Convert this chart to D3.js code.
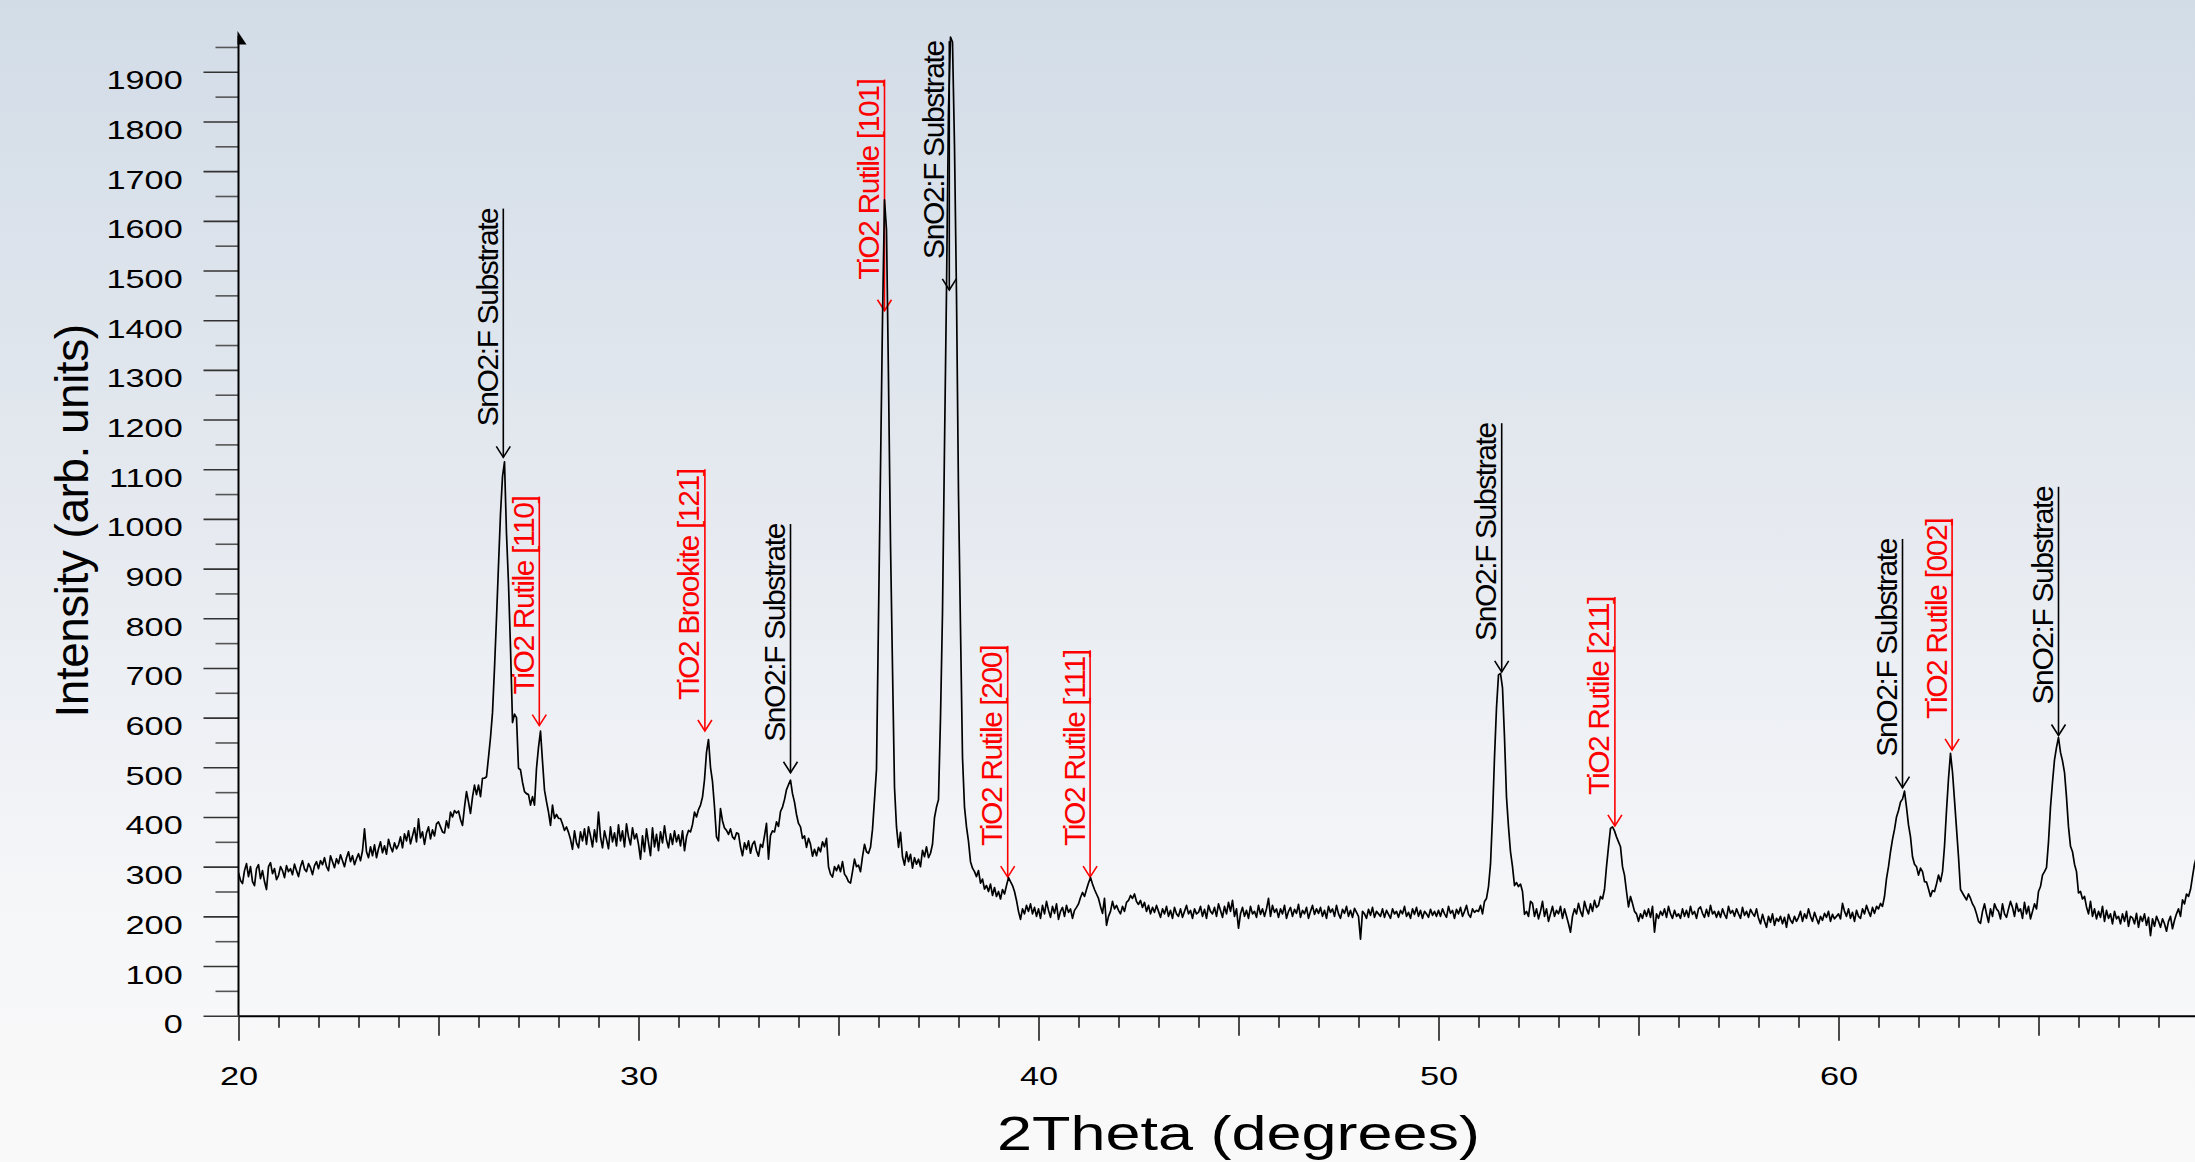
<!DOCTYPE html>
<html><head><meta charset="utf-8">
<script src="https://cdn.jsdelivr.net/npm/d3@7"></script>
<style>
html,body{margin:0;padding:0;overflow:hidden;background:#fff;}
svg{display:block;}
text{font-family:"Liberation Sans",Arial,Helvetica,sans-serif;}
</style></head><body>
<svg id="chart" width="2195" height="1162"></svg>
<script>
// ---------------- DATA ----------------
// XRD intensity, one row per degree of 2Theta (row k starts at firstRowTheta + k),
// samples evenly spaced inside each row (0.05 deg).
const firstRowTheta = 20;
const intensityRows = [
/*20*/[288,272,266,292,306,280,300,270,262,296,304,276,292,270,254,300,308,286,296,274],
/*21*/[282,300,292,278,302,290,296,284,305,292,280,300,312,295,290,306,298,284,302,310],
/*22*/[296,312,304,318,300,292,322,310,298,316,306,324,312,300,318,330,310,322,304,316],
/*23*/[326,312,332,376,330,318,340,322,344,318,336,350,328,342,325,355,340,330,348,336],
/*24*/[344,360,338,366,352,372,346,362,378,350,396,358,370,345,368,380,356,374,362,386],
/*25*/[390,380,370,368,392,378,410,400,413,408,412,395,383,420,451,430,407,440,464,445],
/*26*/[464,441,478,478,481,520,560,610,700,800,907,1010,1085,1115,970,870,740,590,607,600],
/*27*/[498,495,470,451,447,445,424,441,424,498,540,573,512,454,431,410,383,424,397,405],
/*28*/[397,397,386,373,380,369,355,335,372,348,338,370,352,376,345,380,362,340,374,350],
/*29*/[410,360,338,372,355,336,380,350,368,342,384,352,372,340,386,360,344,378,356,366],
/*30*/[345,315,362,330,376,348,322,378,340,365,332,370,348,382,354,338,366,345,372,350],
/*31*/[364,342,372,332,360,373,370,385,410,400,415,424,440,475,530,556,500,471,420,360],
/*32*/[352,417,392,378,373,365,376,360,355,368,366,340,322,348,335,352,327,345,351,332],
/*33*/[321,345,339,362,387,315,363,372,370,390,381,411,420,435,455,465,474,447,430,405],
/*34*/[387,380,357,362,339,357,345,321,335,322,339,330,350,340,357,300,285,279,300,292],
/*35*/[303,290,310,285,279,270,267,290,315,300,303,290,320,345,330,327,339,375,435,496],
/*36*/[800,1100,1401,1642,1582,1280,950,700,460,380,339,369,320,303,330,310,325,297,318,305],
/*37*/[315,300,333,320,340,318,327,345,399,420,435,600,811,1146,1460,1823,1970,1960,1750,1450],
/*38*/[1050,780,520,420,380,351,310,297,290,280,292,267,275,255,262,250,265,242,258,240],
/*39*/[250,235,254,245,262,278,270,262,250,232,210,194,215,205,222,210,225,205,218,200],
/*40*/[215,196,222,205,230,212,198,220,206,225,194,210,218,200,222,208,215,196,212,218],
/*41*/[225,238,248,240,254,267,278,265,254,245,236,220,206,236,182,200,210,230,215,222],
/*42*/[212,205,220,210,228,232,242,236,245,230,224,232,218,228,210,222,205,218,208,222],
/*43*/[210,198,215,205,220,200,212,196,218,205,200,215,198,210,222,205,212,196,215,205],
/*44*/[208,220,200,214,196,222,210,205,218,200,225,212,198,220,205,228,210,232,200,215],
/*45*/[176,205,218,200,212,196,220,205,210,198,222,204,215,200,215,236,200,222,208,215],
/*46*/[198,215,205,222,196,210,218,200,214,206,224,198,212,205,218,196,210,222,204,215],
/*47*/[206,218,200,212,196,220,208,215,200,222,205,196,214,206,220,200,212,198,216,208],
/*48*/[200,154,210,205,196,214,202,218,198,210,205,200,215,198,212,204,196,215,205,210],
/*49*/[198,212,205,220,200,208,196,215,204,218,200,212,196,210,205,198,214,202,210,200],
/*50*/[212,200,215,205,198,220,206,212,196,214,205,218,200,210,222,204,198,215,208,212],
/*51*/[210,222,205,230,236,260,305,400,520,620,686,689,660,560,440,380,330,300,262,268],
/*52*/[260,265,250,204,210,200,230,226,200,215,195,210,230,200,215,190,205,220,200,212],
/*53*/[205,220,196,215,200,185,168,200,215,205,226,210,200,230,215,205,225,210,232,218],
/*54*/[222,240,235,254,300,340,377,380,372,360,350,340,300,283,250,219,240,226,210,205],
/*55*/[190,205,196,212,200,215,198,220,168,205,196,210,202,215,198,220,205,196,212,200],
/*56*/[205,196,215,200,212,198,220,204,210,196,215,219,206,198,214,200,222,205,210,198],
/*57*/[210,198,215,204,196,220,206,212,200,215,205,196,218,202,210,198,214,206,200,215],
/*58*/[196,185,204,190,178,200,188,205,182,196,190,200,185,198,178,204,192,186,200,190],
/*59*/[198,210,190,205,196,215,200,190,208,196,185,200,192,206,198,210,190,204,195,200],
/*60*/[205,195,226,210,200,215,196,208,190,212,200,196,215,205,222,210,200,218,206,220],
/*61*/[215,226,220,240,276,300,330,355,375,400,413,430,436,452,420,384,360,320,305,300],
/*62*/[283,297,290,270,269,255,240,252,250,265,283,270,290,341,413,477,528,490,434,377],
/*63*/[320,254,247,240,233,245,236,225,218,205,190,186,210,225,205,188,215,200,225,215],
/*64*/[210,195,225,205,198,215,230,218,200,226,210,215,196,228,205,220,195,210,225,215],
/*65*/[250,260,283,290,298,350,420,470,515,540,560,530,513,490,440,380,341,330,305,290],
/*66*/[247,250,235,240,219,205,230,200,215,195,210,198,220,190,212,196,205,185,210,195],
/*67*/[200,185,205,190,210,180,200,197,185,206,178,200,190,205,182,198,161,195,180,200],
/*68*/[190,178,195,185,170,190,200,175,192,205,215,200,233,225,245,240,254,280,305,320]
];

const yTickValues = [0,100,200,300,400,500,600,700,800,900,1000,1100,1200,1300,1400,1500,1600,1700,1800,1900];
const yMinorTickValues = [50,150,250,350,450,550,650,750,850,950,1050,1150,1250,1350,1450,1550,1650,1750,1850,1950];
const xTickLabels = [20,30,40,50,60];
const xMidTicks = [25,35,45,55,65];
const xMinorTicks = [21,22,23,24,26,27,28,29,31,32,33,34,36,37,38,39,41,42,43,44,46,47,48,49,51,52,53,54,56,57,58,59,61,62,63,64,66,67,68];

const peakLabels = ["SnO2:F Substrate","TiO2 Rutile [110]","TiO2 Brookite [121]","SnO2:F Substrate",
  "TiO2 Rutile [101]","SnO2:F Substrate","TiO2 Rutile [200]","TiO2 Rutile [111]",
  "SnO2:F Substrate","TiO2 Rutile [211]","SnO2:F Substrate","TiO2 Rutile [002]","SnO2:F Substrate"];
const peakTheta = [26.62,27.52,31.66,33.8,36.15,37.77,39.23,41.29,51.58,54.41,61.6,62.84,65.5];
const peakArrowIntensity = [1124,584,573,489,1419,1461,279,279,692,382,459,535,564];
const peakPhase = ["SnO2","TiO2","TiO2","SnO2","TiO2","SnO2","TiO2","TiO2","SnO2","TiO2","SnO2","TiO2","SnO2"];

const xAxisTitle = "2Theta (degrees)";
const yAxisTitle = "Intensity (arb. units)";

// ---------------- CHART ----------------
const W = 2195, H = 1162;
const svg = d3.select("#chart");
const defs = svg.append("defs");
const grad = defs.append("linearGradient").attr("id","bg").attr("x1",0).attr("y1",0).attr("x2",0).attr("y2",1);
[["0%","#d2dce7"],["45%","#e6eaf0"],["80%","#f6f7f9"],["100%","#faf9f9"]].forEach(s=>
  grad.append("stop").attr("offset",s[0]).attr("stop-color",s[1]));
svg.append("rect").attr("width",W).attr("height",H).attr("fill","url(#bg)");

const x = d3.scaleLinear().domain([20, 68.9]).range([238.5, 2194.5]);
const y = d3.scaleLinear().domain([0, 1900]).range([1015.7, 71.8]);

defs.append("clipPath").attr("id","plotclip").append("rect")
  .attr("x", x(20)).attr("y", 0).attr("width", W - x(20)).attr("height", y(0) + 1);

// Y axis (minor then major ticks)
const gyMinor = svg.append("g").attr("transform",`translate(${x(20)},0)`)
  .call(d3.axisLeft(y).tickValues(yMinorTickValues).tickSize(23).tickSizeOuter(0).tickFormat(""));
gyMinor.select(".domain").remove();
gyMinor.selectAll(".tick line").attr("stroke","#555").attr("stroke-width",1.6);

const gy = svg.append("g").attr("transform",`translate(${x(20)},0)`)
  .call(d3.axisLeft(y).tickValues(yTickValues).tickSize(35).tickSizeOuter(0).tickFormat(d3.format("d")));
gy.select(".domain").remove();
gy.selectAll(".tick line").attr("stroke","#333").attr("stroke-width",1.6);
gy.selectAll(".tick text")
  .attr("x",null).attr("dy",null).attr("text-anchor","end")
  .attr("font-size",25).attr("fill","#000")
  .attr("transform","translate(-55.8,17) scale(1.37,1)");

// Y axis line with arrow
svg.append("line").attr("x1",x(20)).attr("x2",x(20)).attr("y1",y(0)).attr("y2",y(1972))
  .attr("stroke","#000").attr("stroke-width",2);
svg.append("path")
  .attr("d",`M${x(20)-1},${y(1982)} L${x(20)+8},${y(1955)} L${x(20)-1},${y(1955)} Z`)
  .attr("fill","#000");

// X axis
const gxMinor = svg.append("g").attr("transform",`translate(0,${y(0)})`)
  .call(d3.axisBottom(x).tickValues(xMinorTicks).tickSize(12).tickSizeOuter(0).tickFormat(""));
gxMinor.select(".domain").remove();
const gxMid = svg.append("g").attr("transform",`translate(0,${y(0)})`)
  .call(d3.axisBottom(x).tickValues(xMidTicks).tickSize(20).tickSizeOuter(0).tickFormat(""));
gxMid.select(".domain").remove();
const gx = svg.append("g").attr("transform",`translate(0,${y(0)})`)
  .call(d3.axisBottom(x).tickValues(xTickLabels).tickSize(25).tickSizeOuter(0).tickFormat(d3.format("d")));
gx.select(".domain").attr("stroke","#000").attr("stroke-width",2);
[gxMinor, gxMid, gx].forEach(g=>g.selectAll(".tick line").attr("stroke","#111").attr("stroke-width",1.5));
gx.selectAll(".tick text")
  .attr("y",null).attr("dy",null).attr("text-anchor","middle")
  .attr("font-size",25).attr("fill","#000")
  .attr("transform","translate(0,69.3) scale(1.375,1)");

// Peak annotations (drawn beneath the trace)
const gAnn = svg.append("g");
peakLabels.forEach((lab,i)=>{
  const col = peakPhase[i]==="TiO2" ? "#ff0000" : "#000000";
  const lx = x(peakTheta[i]), ty = y(peakArrowIntensity[i]);
  const t = gAnn.append("text")
    .attr("transform",`translate(${lx-5.5},${ty-31}) rotate(-90)`)
    .attr("text-anchor","start").attr("font-size",30)
    .attr("letter-spacing","-1.4px").attr("fill",col).text(lab);
  const L = t.node().getComputedTextLength();
  gAnn.append("line").attr("x1",lx).attr("x2",lx).attr("y1",ty).attr("y2",ty-31-L)
    .attr("stroke",col).attr("stroke-width",1.6);
  gAnn.append("path").attr("d",`M${lx-7},${ty-11} L${lx},${ty} L${lx+7},${ty-11}`)
    .attr("fill","none").attr("stroke",col).attr("stroke-width",1.6);
});

// XRD trace
const pts = [];
intensityRows.forEach((row,k)=>{
  row.forEach((v,j)=>pts.push([firstRowTheta + k + j/row.length, v]));
});
svg.append("path").datum(pts)
  .attr("clip-path","url(#plotclip)")
  .attr("d", d3.line().x(d=>x(d[0])).y(d=>y(d[1])))
  .attr("fill","none").attr("stroke","#000").attr("stroke-width",1.7)
  .attr("stroke-linejoin","round");

// Axis titles
svg.append("text").attr("x",997).attr("y",1150)
  .attr("font-size",49).attr("textLength",483).attr("lengthAdjust","spacingAndGlyphs")
  .attr("fill","#000").text(xAxisTitle);
svg.append("text").attr("transform","translate(88,521) rotate(-90)")
  .attr("text-anchor","middle").attr("font-size",46).attr("letter-spacing","-0.5px")
  .attr("fill","#000").text(yAxisTitle);
</script>
</body></html>
